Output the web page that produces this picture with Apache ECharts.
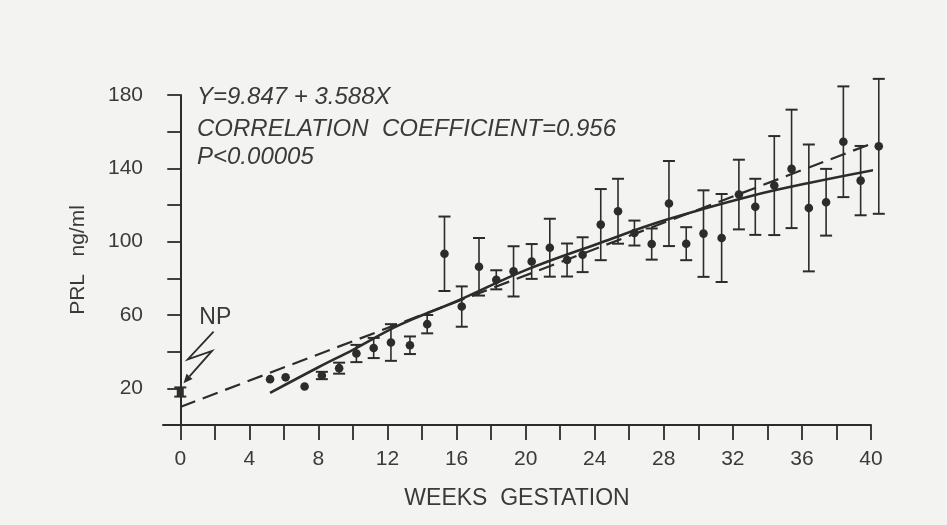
<!DOCTYPE html>
<html>
<head>
<meta charset="utf-8">
<title>PRL during gestation</title>
<script src="https://cdn.jsdelivr.net/npm/echarts@6/dist/echarts.min.js"></script>
<style>
  html, body { margin: 0; padding: 0; background: #f3f3f1; }
  #chart { width: 947px; height: 525px; }
</style>
</head>
<body>
<div id="chart"></div>
<script>
// Weekly PRL means (ng/ml) with error-bar half-lengths
const weeks   = [5.2, 6.1, 7.2, 8.2, 9.2, 10.2, 11.2, 12.2, 13.3, 14.3, 15.3, 16.3, 17.3, 18.3, 19.3, 20.35, 21.4, 22.4, 23.3, 24.35, 25.35, 26.3, 27.3, 28.3, 29.3, 30.3, 31.35, 32.35, 33.3, 34.4, 35.4, 36.4, 37.4, 38.4, 39.4, 40.45];
const prlMean = [25, 26, 21, 27, 31, 39, 42, 45, 43.5, 55, 93.4, 64.6, 86.3, 79.2, 83.8, 89.2, 96.7, 90, 92.9, 109.3, 116.6, 104.7, 98.7, 120.8, 98.9, 104.4, 102, 125.7, 119, 130.6, 139.7, 118.4, 121.5, 154.5, 133.3, 152];
const prlErr  = [0, 0, 0, 2, 3, 4.7, 5.5, 10, 4.8, 5, 20.3, 11, 15.7, 5.2, 13.7, 9.5, 15.8, 9, 9.5, 19.4, 17.7, 6.8, 8.5, 23.2, 9, 23.6, 24, 19, 15.3, 27, 32.3, 34.6, 18.2, 30.2, 18.9, 36.8];

// Non-pregnant reference value
const npWeek = [0];
const npMean = [18];
const npErr  = [2.5];

// Smoothed curve through the weekly means
const curveWeeks  = [5.2, 8, 10, 12.7, 16, 20, 24.3, 28, 33, 36.4, 40.3];
const curveValues = [17.5, 31.5, 41, 54.6, 67.5, 84.5, 99.3, 111.5, 124.8, 132, 139.3];

// Linear regression Y = 9.847 + 3.588X
const regIntercept = 9.847;
const regSlope = 3.588;
const regWeeks = [0, 40];

// Axis ticks and labels
const xTickValues  = [0, 2, 4, 6, 8, 10, 12, 14, 16, 18, 20, 22, 24, 26, 28, 30, 32, 34, 36, 38, 40];
const xLabelValues = [0, 4, 8, 12, 16, 20, 24, 28, 32, 36, 40];
const yTickValues  = [20, 40, 60, 80, 100, 120, 140, 160, 180];
const yLabelValues = [20, 60, 100, 140, 180];

// "NP" lightning arrow, in data units (week, ng/ml)
const npArrowWeeks  = [1.93, 0.43, 1.84, 0.19];
const npArrowValues = [50.9, 35.8, 40.4, 22.8];
const npLabelAt = [2.03, 59.6];

const statLines = [
  'Y=9.847 + 3.588X',
  'CORRELATION  COEFFICIENT=0.956',
  'P<0.00005'
];

const ink = '#2c2c2c';
const textInk = '#3a3a3a';
const font = '"Liberation Sans", Arial, sans-serif';

const meanRows = weeks.map((w, i) => [w, prlMean[i], prlErr[i]]);
const npRows = npWeek.map((w, i) => [w, npMean[i], npErr[i]]);
const curveRows = curveWeeks.map((w, i) => [w, curveValues[i]]);
const regRows = regWeeks.map(w => [w, regIntercept + regSlope * w]);

function errorBarGroup(api, marker) {
  const x = api.value(0), m = api.value(1), e = api.value(2);
  const c = api.coord([x, m]);
  const kids = [];
  if (e > 0) {
    const top = api.coord([x, m + e]);
    const bot = api.coord([x, m - e]);
    const hw = 6;
    kids.push({ type: 'line', shape: { x1: c[0], y1: top[1], x2: c[0], y2: bot[1] }, style: { stroke: ink, lineWidth: 1.6 } });
    kids.push({ type: 'line', shape: { x1: c[0] - hw, y1: top[1], x2: c[0] + hw, y2: top[1] }, style: { stroke: ink, lineWidth: 2 } });
    kids.push({ type: 'line', shape: { x1: c[0] - hw, y1: bot[1], x2: c[0] + hw, y2: bot[1] }, style: { stroke: ink, lineWidth: 2 } });
  }
  if (marker === 'square') {
    kids.push({ type: 'rect', shape: { x: c[0] - 3.5, y: c[1] - 4.5, width: 7, height: 9 }, style: { fill: ink } });
  } else {
    kids.push({ type: 'circle', shape: { cx: c[0], cy: c[1], r: 4.3 }, style: { fill: ink } });
  }
  return { type: 'group', children: kids };
}

function renderNpArrow(params, api) {
  const pts = npArrowWeeks.map((w, i) => api.coord([w, npArrowValues[i]]));
  const n = pts.length;
  const tip = pts[n - 1], prev = pts[n - 2];
  const dx = tip[0] - prev[0], dy = tip[1] - prev[1];
  const len = Math.hypot(dx, dy);
  const ux = dx / len, uy = dy / len;
  const headLen = 9, headHalf = 4;
  const bx = tip[0] - ux * headLen, by = tip[1] - uy * headLen;
  const head = [
    [tip[0], tip[1]],
    [bx - uy * headHalf, by + ux * headHalf],
    [bx + uy * headHalf, by - ux * headHalf]
  ];
  const shaft = pts.slice(0, n - 1).concat([[bx, by]]);
  const lp = api.coord(npLabelAt);
  return {
    type: 'group',
    children: [
      { type: 'polyline', shape: { points: shaft }, style: { stroke: ink, lineWidth: 1.8, fill: null } },
      { type: 'polygon', shape: { points: head }, style: { fill: ink } },
      { type: 'text', x: lp[0], y: lp[1] + 2, style: { text: 'NP', fill: textInk, font: '23px ' + font, align: 'center', verticalAlign: 'middle' } }
    ]
  };
}

const chart = echarts.init(document.getElementById('chart'), null, { renderer: 'canvas' });

chart.setOption({
  backgroundColor: '#f3f3f1',
  animation: false,
  grid: { left: 163, right: 76, top: 95, bottom: 100 },
  xAxis: {
    type: 'value',
    min: -1,
    max: 40,
    name: 'WEEKS  GESTATION',
    nameLocation: 'middle',
    nameGap: 62,
    nameTextStyle: { fontFamily: font, fontSize: 23, color: textInk },
    axisLine: { show: true, onZero: false, lineStyle: { color: ink, width: 2 } },
    axisTick: { show: true, length: 15, customValues: xTickValues, lineStyle: { color: ink, width: 1.8 } },
    axisLabel: { customValues: xLabelValues, margin: 24, fontFamily: font, fontSize: 21, color: textInk },
    splitLine: { show: false }
  },
  yAxis: {
    type: 'value',
    min: 0,
    max: 180,
    name: 'PRL   ng/ml',
    nameLocation: 'middle',
    nameRotate: 90,
    nameGap: 74,
    nameTextStyle: { fontFamily: font, fontSize: 21, color: textInk },
    axisLine: { show: true, lineStyle: { color: ink, width: 2 } },
    axisTick: { show: true, length: 13, customValues: yTickValues, lineStyle: { color: ink, width: 1.8 } },
    axisLabel: { customValues: yLabelValues, margin: 20, fontFamily: font, fontSize: 21, color: textInk },
    splitLine: { show: false }
  },
  graphic: statLines.map((t, i) => ({
    type: 'text',
    x: 197,
    y: [97, 129, 157][i],
    style: { text: t, fill: textInk, font: 'italic 24px ' + font, verticalAlign: 'middle' }
  })),
  series: [
    {
      name: 'Regression',
      type: 'line',
      data: regRows,
      showSymbol: false,
      clip: false,
      lineStyle: { color: ink, width: 2.2, type: [16, 8] },
      z: 2
    },
    {
      name: 'Curve',
      type: 'line',
      data: curveRows,
      smooth: 0.4,
      showSymbol: false,
      clip: false,
      lineStyle: { color: ink, width: 2.6 },
      z: 3
    },
    {
      name: 'Weekly mean',
      type: 'custom',
      data: meanRows,
      clip: false,
      renderItem: (params, api) => errorBarGroup(api, 'circle'),
      z: 4
    },
    {
      name: 'NP',
      type: 'custom',
      data: npRows,
      clip: false,
      renderItem: (params, api) => errorBarGroup(api, 'square'),
      z: 4
    },
    {
      name: 'NP arrow',
      type: 'custom',
      data: [[0, 0]],
      clip: false,
      silent: true,
      renderItem: renderNpArrow,
      z: 5
    }
  ]
});
</script>
</body>
</html>
